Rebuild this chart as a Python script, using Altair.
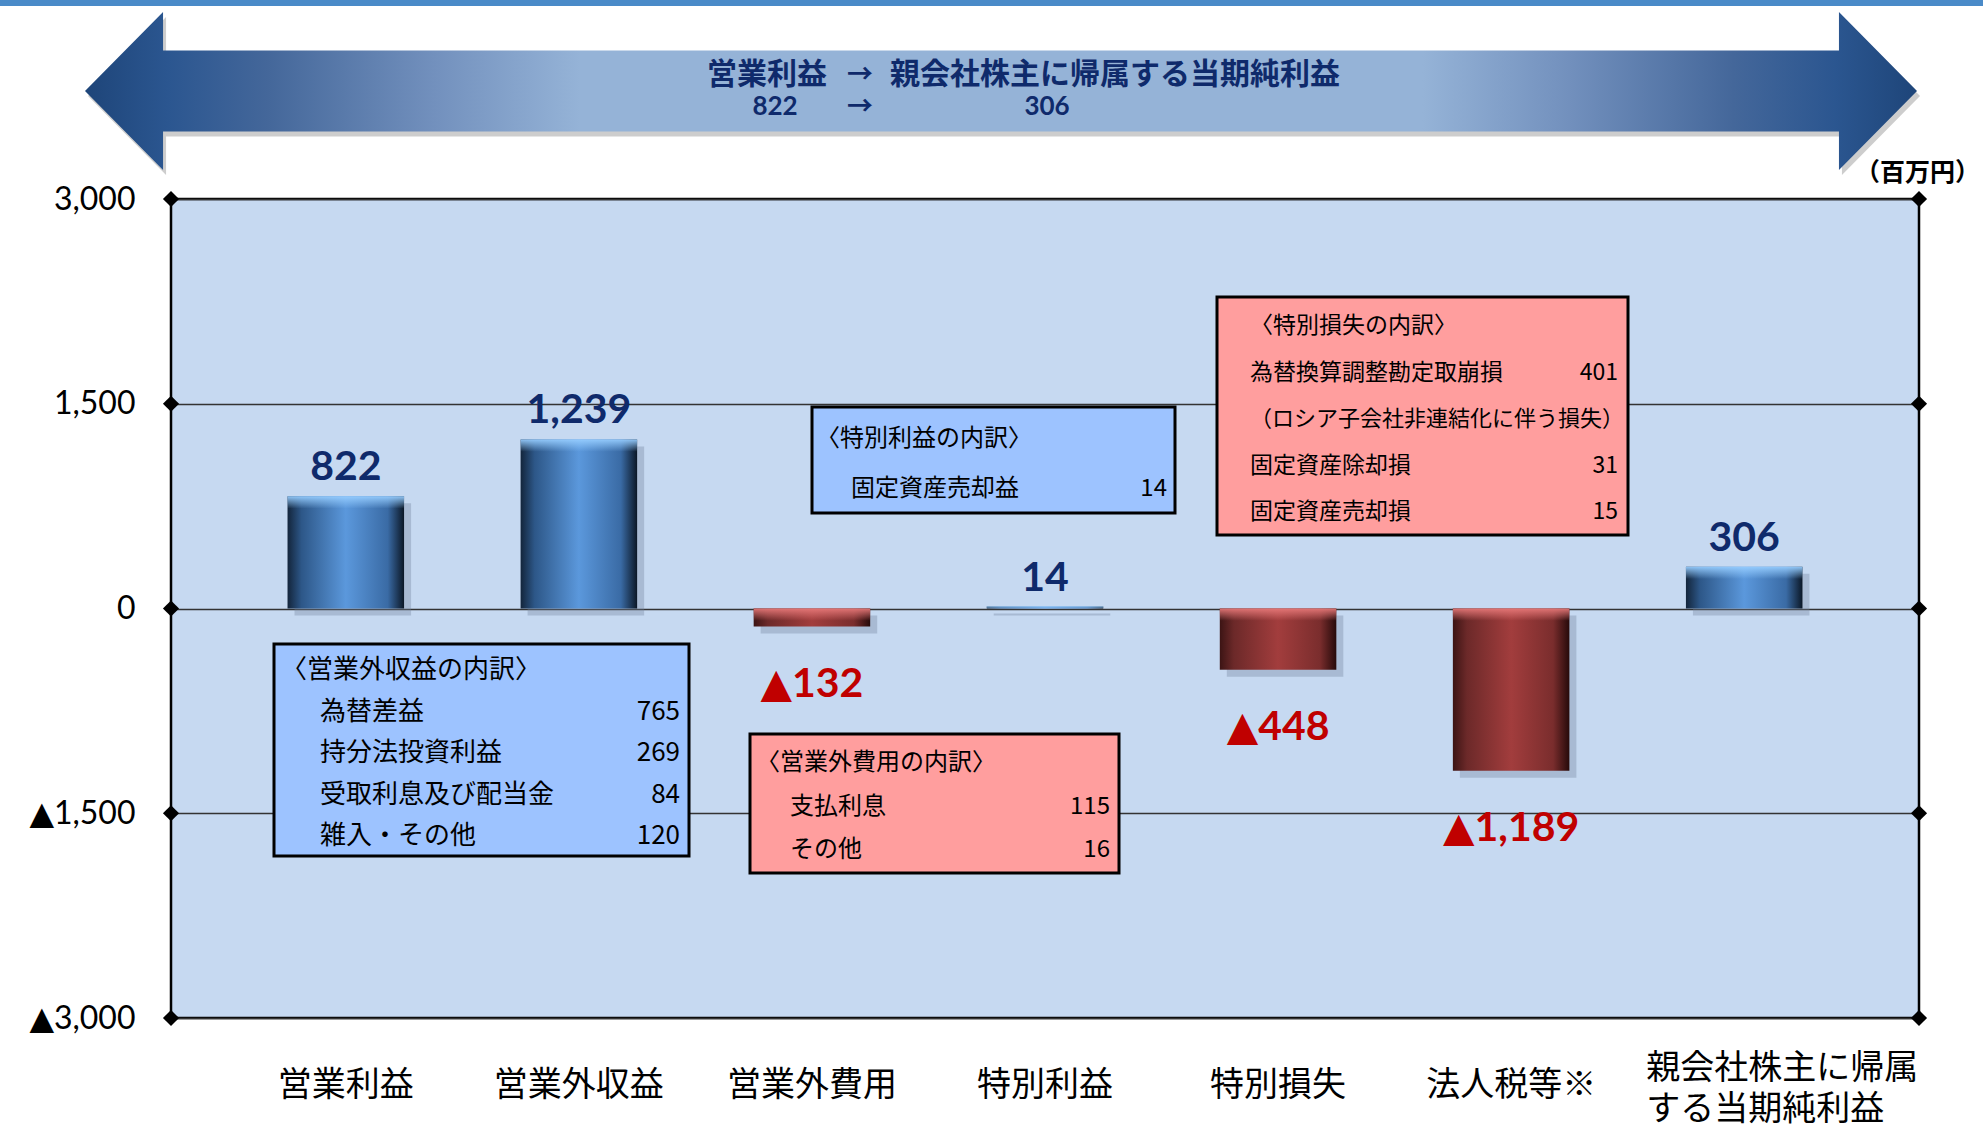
import altair as alt
import pandas as pd

# ---------------- data ----------------
categories = ["営業利益", "営業外収益", "営業外費用", "特別利益", "特別損失", "法人税等※",
              "親会社株主に帰属|する当期純利益"]
values = [822, 1239, -132, 14, -448, -1189, 306]
y_ticks = [3000, 1500, 0, -1500, -3000]

banner_from = "営業利益"
banner_to = "親会社株主に帰属する当期純利益"
banner_from_value = 822
banner_to_value = 306
unit_label = "（百万円）"

nonop_income_title = "〈営業外収益の内訳〉"
nonop_income_items = ["為替差益", "持分法投資利益", "受取利息及び配当金", "雑入・その他"]
nonop_income_values = [765, 269, 84, 120]

nonop_exp_title = "〈営業外費用の内訳〉"
nonop_exp_items = ["支払利息", "その他"]
nonop_exp_values = [115, 16]

extra_gain_title = "〈特別利益の内訳〉"
extra_gain_items = ["固定資産売却益"]
extra_gain_values = [14]

extra_loss_title = "〈特別損失の内訳〉"
extra_loss_items = ["為替換算調整勘定取崩損", "（ロシア子会社非連結化に伴う損失）", "固定資産除却損", "固定資産売却損"]
extra_loss_values = [401, None, 31, 15]

# ---------------- helpers ----------------
W, H = 1748, 819
CJK = "Noto Sans CJK JP"
NUMFONT = "Lato, DejaVu Sans"
NAVY = "#0F2A6B"
RED = "#C00000"


def fmt(v):
    return ("▲" + f"{-v:,}") if v < 0 else f"{v:,}"


df = pd.DataFrame({"category": categories, "value": values,
                   "label": [fmt(v) for v in values]})
ticks_df = pd.DataFrame({"value": y_ticks})
one = pd.DataFrame({"k": [0]})

y_scale = alt.Scale(domain=[-3000, 3000], nice=False)
x_scale = alt.Scale(paddingInner=0.5, paddingOuter=0.5)

multi_test = "indexof(datum.value, '|') >= 0"
x_axis = alt.Axis(title=None, domain=False, ticks=False, labelAngle=0, grid=False,
                  labelFont=CJK, labelFontSize=34, labelColor="#000000",
                  labelPadding=67, labelLineHeight=41,
                  labelBaseline={"condition": {"test": multi_test, "value": "bottom"},
                                 "value": "middle"},
                  labelAlign={"condition": {"test": multi_test, "value": "left"},
                              "value": "center"},
                  labelOffset={"condition": {"test": multi_test, "value": -98},
                               "value": 0},
                  labelOverlap=False, labelLimit=500,
                  labelExpr="split(datum.label, '|')")
y_axis = alt.Axis(title=None, values=y_ticks, domain=False, ticks=False,
                  labelFont=NUMFONT, labelFontSize=32, labelColor="#000000",
                  labelPadding=36, grid=True, gridColor="#333333", gridWidth=1.6,
                  labelOverlap=False,
                  labelExpr="datum.value < 0 ? '▲' + format(-datum.value, ',') : format(datum.value, ',')")

x_enc = alt.X("category:N", sort=categories, scale=x_scale, axis=x_axis)
y_enc = alt.Y("value:Q", scale=y_scale, axis=y_axis)


def hgrad(stops):
    return {"gradient": "linear", "x1": 0, "x2": 1, "y1": 0, "y2": 0,
            "stops": [{"offset": o, "color": c} for o, c in stops]}


def vgrad(stops):
    return {"gradient": "linear", "x1": 0, "x2": 0, "y1": 0, "y2": 1,
            "stops": [{"offset": o, "color": c} for o, c in stops]}


def text_layer(txt, x, y, size, align="left", weight="normal", color="#000000", font=CJK):
    return alt.Chart(one).mark_text(
        align=align, baseline="middle", fontSize=size, fontWeight=weight,
        color=color, font=font
    ).encode(x=alt.value(x), y=alt.value(y), text=alt.value(txt))


def rect_layer(x0, x1, y0, y1, fill, stroke=None, sw=0):
    kw = dict(color=fill, opacity=1)
    if stroke is not None:
        kw.update(stroke=stroke, strokeWidth=sw)
    return alt.Chart(one).mark_rect(**kw).encode(
        x=alt.value(x0), x2=alt.value(x1), y=alt.value(y0), y2=alt.value(y1))


def breakdown_box(x0, x1, y0, y1, fill, title, title_x, items, vals,
                  item_x, num_x, y_first, step, size, item_sizes=None):
    out = [rect_layer(x0, x1, y0, y1, fill, "#000000", 3)]
    out.append(text_layer(title, title_x, y_first, size))
    for i, (it, v) in enumerate(zip(items, vals)):
        yy = y_first + step * (i + 1)
        fs = item_sizes[i] if item_sizes else size
        out.append(text_layer(it, item_x, yy, fs))
        if v is not None:
            out.append(text_layer(f"{v:,}", num_x, yy, size, align="right"))
    return out


# ---------------- banner ----------------
arrow_path = ("M-1,0L-0.9148,-0.0862L-0.9148,-0.0442L0.9148,-0.0442L0.9148,-0.0862"
              "L1,0L0.9148,0.0862L0.9148,0.0442L-0.9148,0.0442L-0.9148,0.0862Z")
arrow_grad = hgrad([(0, "#1E4579"), (0.045, "#2B5690"), (0.1, "#44679A"), (0.19, "#7290BD"),
                    (0.27, "#95B3D7"), (0.73, "#95B3D7"), (0.81, "#7290BD"), (0.9, "#44679A"),
                    (0.955, "#2B5690"), (1, "#1E4579")])

stripe = rect_layer(-171, W + 64, -199, -193, "#4A8AC8")
arrow_shadow = alt.Chart(one).mark_point(
    shape=arrow_path, size=3356224, filled=True, color="#707070", opacity=0.35, strokeWidth=0
).encode(x=alt.value(833), y=alt.value(-103))
arrow = alt.Chart(one).mark_point(
    shape=arrow_path, size=3356224, filled=True, color=arrow_grad, opacity=1, strokeWidth=0
).encode(x=alt.value(830), y=alt.value(-108))

banner_text = [
    text_layer(banner_from, 596, -124, 30, align="center", weight="bold", color=NAVY),
    text_layer("→", 689, -124, 26, align="center", weight="bold", color=NAVY),
    text_layer(banner_to, 719, -124, 30, align="left", weight="bold", color=NAVY),
    text_layer(f"{banner_from_value:,}", 604, -92, 26, align="center", weight="bold",
               color=NAVY, font="Lato"),
    text_layer("→", 689, -92, 26, align="center", weight="bold", color=NAVY),
    text_layer(f"{banner_to_value:,}", 876, -92, 26, align="center", weight="bold",
               color=NAVY, font="Lato"),
    text_layer(unit_label, W + 61, -26, 25, align="right", weight="bold", color="#000000"),
]

# ---------------- bars ----------------
blue_grad = hgrad([(0, "#13253B"), (0.12, "#2D5788"), (0.5, "#5B98DC"), (0.86, "#3A6BA5"),
                   (1, "#0B1726")])
red_grad = hgrad([(0, "#3C1414"), (0.12, "#6C2929"), (0.5, "#A23D3D"), (0.86, "#7A2D2D"),
                  (1, "#260A0A")])
blue_hl = vgrad([(0, "rgba(150,205,255,0.95)"), (1, "rgba(150,205,255,0)")])
red_hl = vgrad([(0, "rgba(230,120,120,0.95)"), (1, "rgba(230,120,120,0)")])

shadow = alt.Chart(df).mark_bar(
    color="#6F819C", opacity=0.35, xOffset=7, yOffset=7
).encode(x=x_enc, y=y_enc)

pos_bars = alt.Chart(df).transform_filter("datum.value >= 0").mark_bar(
    color=blue_grad, opacity=1).encode(x=x_enc, y=y_enc)
neg_bars = alt.Chart(df).transform_filter("datum.value < 0").mark_bar(
    color=red_grad, opacity=1).encode(x=x_enc, y=y_enc)

hl_base = alt.Chart(df).transform_calculate(
    hl_top="datum.value >= 0 ? datum.value : 0",
    hl_bot="datum.value >= 0 ? datum.value - min(datum.value, 90) : -min(-datum.value, 90)")
pos_hl = hl_base.transform_filter("datum.value >= 0").mark_bar(color=blue_hl, opacity=1).encode(
    x=x_enc, y=alt.Y("hl_top:Q", scale=y_scale, axis=y_axis), y2="hl_bot:Q")
neg_hl = hl_base.transform_filter("datum.value < 0").mark_bar(color=red_hl, opacity=1).encode(
    x=x_enc, y=alt.Y("hl_top:Q", scale=y_scale, axis=y_axis), y2="hl_bot:Q")

pos_labels = alt.Chart(df).transform_filter("datum.value >= 0").mark_text(
    baseline="alphabetic", dy=-16, font=NUMFONT, fontWeight="bold", fontSize=41, color=NAVY
).encode(x=x_enc, y=y_enc, text="label:N")
neg_labels = alt.Chart(df).transform_filter("datum.value < 0").mark_text(
    baseline="alphabetic", dy=70, font=NUMFONT, fontWeight="bold", fontSize=41, color=RED
).encode(x=x_enc, y=y_enc, text="label:N")

# axis end diamonds
diam_l = alt.Chart(ticks_df).mark_point(
    shape="diamond", filled=True, size=260, color="#000000", opacity=1
).encode(x=alt.value(0), y=y_enc)
diam_r = alt.Chart(ticks_df).mark_point(
    shape="diamond", filled=True, size=260, color="#000000", opacity=1
).encode(x=alt.value(W), y=y_enc)

# ---------------- breakdown boxes ----------------
BLUE_BOX = "#9DC3FF"
PINK_BOX = "#FF9E9E"
boxes = []
boxes += breakdown_box(103, 518, 445, 657, BLUE_BOX, nonop_income_title, 110,
                       nonop_income_items, nonop_income_values, 149, 509, 471, 41.5, 26)
boxes += breakdown_box(579, 948, 535, 674, PINK_BOX, nonop_exp_title, 585,
                       nonop_exp_items, nonop_exp_values, 619, 939, 564, 43.5, 24)
boxes += breakdown_box(641, 1004, 208, 314, BLUE_BOX, extra_gain_title, 645,
                       extra_gain_items, extra_gain_values, 680, 996, 240, 50, 24)
boxes += breakdown_box(1046, 1457, 98, 336, PINK_BOX, extra_loss_title, 1079,
                       extra_loss_items, extra_loss_values, 1079, 1447, 127, 46.5, 23,
                       item_sizes=[23, 22, 23, 23])

layers = ([shadow, pos_bars, neg_bars, pos_hl, neg_hl, pos_labels, neg_labels,
           diam_l, diam_r, stripe, arrow_shadow, arrow] + banner_text + boxes)

chart = alt.layer(*layers).properties(
    width=W, height=H,
    padding={"left": 171, "top": 199, "right": 64, "bottom": 107},
    autosize=alt.AutoSizeParams(type="none"),
    background="#FFFFFF",
).configure(font=CJK).configure_view(fill="#C6D9F1", stroke="#000000", strokeWidth=2.5)

chart.save("out.html", embed_options={"renderer": "svg", "actions": False})
